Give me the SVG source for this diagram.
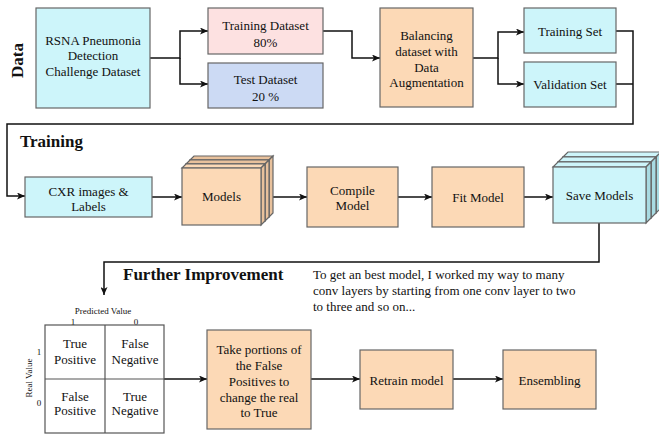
<svg xmlns="http://www.w3.org/2000/svg" width="659" height="435" viewBox="0 0 659 435" font-family="'Liberation Serif', Tinos, 'Times New Roman', 'DejaVu Serif', serif">
<defs>
<marker id="arr" markerWidth="9" markerHeight="7" refX="8" refY="3.5" orient="auto" markerUnits="userSpaceOnUse">
<path d="M0,0 L8,3.5 L0,7 L2,3.5 z" fill="#111"/>
</marker>
<style>
text{fill:#111}
.t{font-size:13px;text-anchor:middle}
.p{font-size:13px}
.s{font-size:9px;text-anchor:middle}
.h{font-size:17px;font-weight:bold}
.box{stroke:#666;stroke-width:1.2}
.peach{fill:#fcd9b6}
.peachd{fill:#e8c19c}
.cyan{fill:#cdf5fa}
.cyand{fill:#a8dbe2}
.pink{fill:#fde1e1}
.blue{fill:#ccdaf4}
.grid{fill:#fff;stroke:#555;stroke-width:1.2}
.c{fill:none;stroke:#111;stroke-width:1.5}
</style>
</defs>
<rect width="659" height="435" fill="#fff"/>

<text class="h" transform="translate(23,60.5) rotate(-90)" text-anchor="middle">Data</text>
<text class="h" x="20" y="147">Training</text>
<text class="h" x="123" y="280">Further Improvement</text>

<g id="connectors">
<path class="c" d="M150,58 H180 V31 H208" marker-end="url(#arr)"/>
<path class="c" d="M180,58 V84 H208" marker-end="url(#arr)"/>
<path class="c" d="M323,31 H352 V58 H380" marker-end="url(#arr)"/>
<path class="c" d="M473,58 H498 V32 H524" marker-end="url(#arr)"/>
<path class="c" d="M498,58 V84 H524" marker-end="url(#arr)"/>
<path class="c" d="M616,31 H633 V124 H7 V196 H25" marker-end="url(#arr)"/>
<path class="c" d="M616,84 H633"/>
<path class="c" d="M152,197 H182" marker-end="url(#arr)"/>
<path class="c" d="M273,197 H307" marker-end="url(#arr)"/>
<path class="c" d="M398,197 H432" marker-end="url(#arr)"/>
<path class="c" d="M524,197 H553" marker-end="url(#arr)"/>
<path class="c" d="M599,223 V262 H104 V295" marker-end="url(#arr)"/>
<path class="c" d="M164,379 H207" marker-end="url(#arr)"/>
<path class="c" d="M311,379 H360" marker-end="url(#arr)"/>
<path class="c" d="M453,379 H503" marker-end="url(#arr)"/>
</g>

<g id="rsna">
<rect class="box cyan" x="36" y="8" width="114" height="100"/>
<text class="t" x="93" y="44.5">RSNA Pneumonia</text>
<text class="t" x="93" y="60">Detection</text>
<text class="t" x="93" y="75.5">Challenge Dataset</text>
</g>

<g id="training-dataset">
<rect class="box pink" x="208" y="8" width="115" height="46"/>
<text class="t" x="265.5" y="29.5">Training Dataset</text>
<text class="t" x="265.5" y="46.5">80%</text>
</g>

<g id="test-dataset">
<rect class="box blue" x="208" y="63" width="115" height="45"/>
<text class="t" x="265.5" y="83.5">Test Dataset</text>
<text class="t" x="265.5" y="100.5">20 %</text>
</g>

<g id="balancing">
<rect class="box peach" x="380" y="8" width="93" height="99"/>
<text class="t" x="426.5" y="39.5">Balancing</text>
<text class="t" x="426.5" y="56">dataset with</text>
<text class="t" x="426.5" y="71.5">Data</text>
<text class="t" x="426.5" y="87">Augmentation</text>
</g>

<g id="training-set">
<rect class="box cyan" x="524" y="8" width="92" height="45"/>
<text class="t" x="570" y="35.5">Training Set</text>
</g>

<g id="validation-set">
<rect class="box cyan" x="524" y="62" width="92" height="45"/>
<text class="t" x="570" y="88.5">Validation Set</text>
</g>

<g id="cxr">
<rect class="box cyan" x="25" y="177" width="127" height="40"/>
<text class="t" x="88.5" y="195.5">CXR images &amp;</text>
<text class="t" x="88.5" y="211">Labels</text>
</g>

<g id="models">
<g transform="translate(8,-8)">
<polygon class="box peachd" points="182,168 186,164 265,164 261,168"/>
<polygon class="box peachd" points="261,168 265,164 265,221 261,225"/>
<rect class="box peach" x="182" y="168" width="79" height="57"/>
</g>
<g transform="translate(4,-4)">
<polygon class="box peachd" points="182,168 186,164 265,164 261,168"/>
<polygon class="box peachd" points="261,168 265,164 265,221 261,225"/>
<rect class="box peach" x="182" y="168" width="79" height="57"/>
</g>
<polygon class="box peach" points="182,168 186,164 265,164 261,168"/>
<polygon class="box peachd" points="261,168 265,164 265,221 261,225"/>
<rect class="box peach" x="182" y="168" width="79" height="57"/>
<text class="t" x="221.5" y="201">Models</text>
</g>

<g id="compile">
<rect class="box peach" x="307" y="167" width="91" height="60"/>
<text class="t" x="352.5" y="194.5">Compile</text>
<text class="t" x="352.5" y="210">Model</text>
</g>

<g id="fit">
<rect class="box peach" x="432" y="167" width="92" height="60"/>
<text class="t" x="478" y="201.5">Fit Model</text>
</g>

<g id="save-models">
<g transform="translate(10,-10)">
<polygon class="box cyan" points="553,167 558,162 651,162 646,167"/>
<polygon class="box cyand" points="646,167 651,162 651,218 646,223"/>
<rect class="box cyan" x="553" y="167" width="93" height="56"/>
</g>
<g transform="translate(5,-5)">
<polygon class="box cyan" points="553,167 558,162 651,162 646,167"/>
<polygon class="box cyand" points="646,167 651,162 651,218 646,223"/>
<rect class="box cyan" x="553" y="167" width="93" height="56"/>
</g>
<polygon class="box cyan" points="553,167 558,162 651,162 646,167"/>
<polygon class="box cyand" points="646,167 651,162 651,218 646,223"/>
<rect class="box cyan" x="553" y="167" width="93" height="56"/>
<text class="t" x="599.5" y="200">Save Models</text>
</g>

<g id="note">
<text class="p" x="313" y="279">To get an best model, I worked my way to many</text>
<text class="p" x="313" y="295">conv layers by starting from one conv layer to two</text>
<text class="p" x="313" y="311">to three and so on...</text>
</g>

<g id="confusion-matrix">
<text class="s" x="103" y="314">Predicted Value</text>
<text class="s" x="73" y="325">1</text>
<text class="s" x="136" y="325">0</text>
<text class="s" transform="translate(32,378) rotate(-90)">Real Value</text>
<text class="s" x="39" y="355">1</text>
<text class="s" x="39" y="406">0</text>
<rect class="grid" x="45" y="325" width="119" height="108"/>
<path class="grid" d="M105,325 V433 M45,379 H164"/>
<text class="t" x="75" y="347.5">True</text>
<text class="t" x="75" y="364">Positive</text>
<text class="t" x="135" y="347.5">False</text>
<text class="t" x="135" y="364">Negative</text>
<text class="t" x="75" y="400.5">False</text>
<text class="t" x="75" y="415">Positive</text>
<text class="t" x="135" y="400.5">True</text>
<text class="t" x="135" y="415">Negative</text>
</g>

<g id="take-portions">
<rect class="box peach" x="207" y="330" width="104" height="99"/>
<text class="t" x="259" y="353.5">Take portions of</text>
<text class="t" x="259" y="369.5">the False</text>
<text class="t" x="259" y="385.5">Positives to</text>
<text class="t" x="259" y="401.5">change the real</text>
<text class="t" x="259" y="416.5">to True</text>
</g>

<g id="retrain">
<rect class="box peach" x="360" y="350" width="93" height="59"/>
<text class="t" x="406.5" y="384.5">Retrain model</text>
</g>

<g id="ensembling">
<rect class="box peach" x="503" y="350" width="93" height="59"/>
<text class="t" x="549.5" y="384.5">Ensembling</text>
</g>
</svg>
